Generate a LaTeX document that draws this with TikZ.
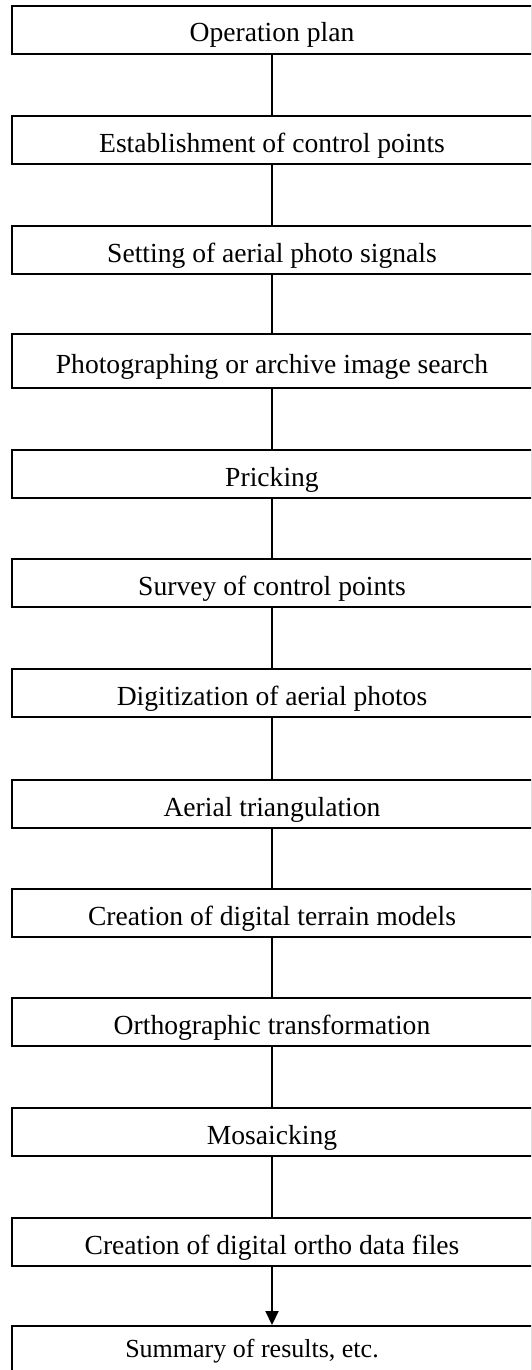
\documentclass[tikz,border=0pt]{standalone}
\usepackage{fontspec}
\setmainfont{Liberation Serif}
\usepackage{tikz}
\usetikzlibrary{positioning, arrows.meta}

\begin{document}
\begin{tikzpicture}[
  x=1pt, y=-1pt,
  stage/.style={rectangle, draw, line width=2pt, minimum width=520pt,
    minimum height=48pt, inner sep=0pt, fill=white,
    text height=29pt, text depth=5pt,
    font=\fontsize{27.6}{33}\selectfont},
  link/.style={draw, line width=2pt},
  flow/.style={draw, line width=2pt, -{Triangle[width=13pt, length=14pt]}}
]
  % Page frame; the boxes run past its right and bottom edges.
  \useasboundingbox (0,0) rectangle (531,1370);
  \clip (0,0) rectangle (531,1370);

  % Work stages, top to bottom.
  \node[stage] (plan) at (272,30) {Operation plan};
  \node[stage] (ctrl) at (272,140) {Establishment of control points};
  \node[stage] (sig) at (272,250) {Setting of aerial photo signals};
  \node[stage, minimum height=54pt] (photo) at (272,361) {Photographing or archive image search};
  \node[stage] (prick) at (272,474) {Pricking};
  \node[stage] (survey) at (272,583) {Survey of control points};
  \node[stage] (digit) at (272,693) {Digitization of aerial photos};
  \node[stage] (tri) at (272,804) {Aerial triangulation};
  \node[stage] (dtm) at (272,913) {Creation of digital terrain models};
  \node[stage] (ortho) at (272,1022) {Orthographic transformation};
  \node[stage] (mosaic) at (272,1132) {Mosaicking};
  \node[stage] (files) at (272,1242) {Creation of digital ortho data files};
  \node[stage, text height=22pt, text depth=8pt, font=\fontsize{26}{31}\selectfont]
    (summ) at (272,1350) {\hspace*{-40pt}Summary of results, etc.};

  % Connectors between stages.
  \draw[link] (plan)--(ctrl);
  \draw[link] (ctrl)--(sig);
  \draw[link] (sig)--(photo);
  \draw[link] (photo)--(prick);
  \draw[link] (prick)--(survey);
  \draw[link] (survey)--(digit);
  \draw[link] (digit)--(tri);
  \draw[link] (tri)--(dtm);
  \draw[link] (dtm)--(ortho);
  \draw[link] (ortho)--(mosaic);
  \draw[link] (mosaic)--(files);
  \draw[flow] (files)--(summ);
\end{tikzpicture}
\end{document}
